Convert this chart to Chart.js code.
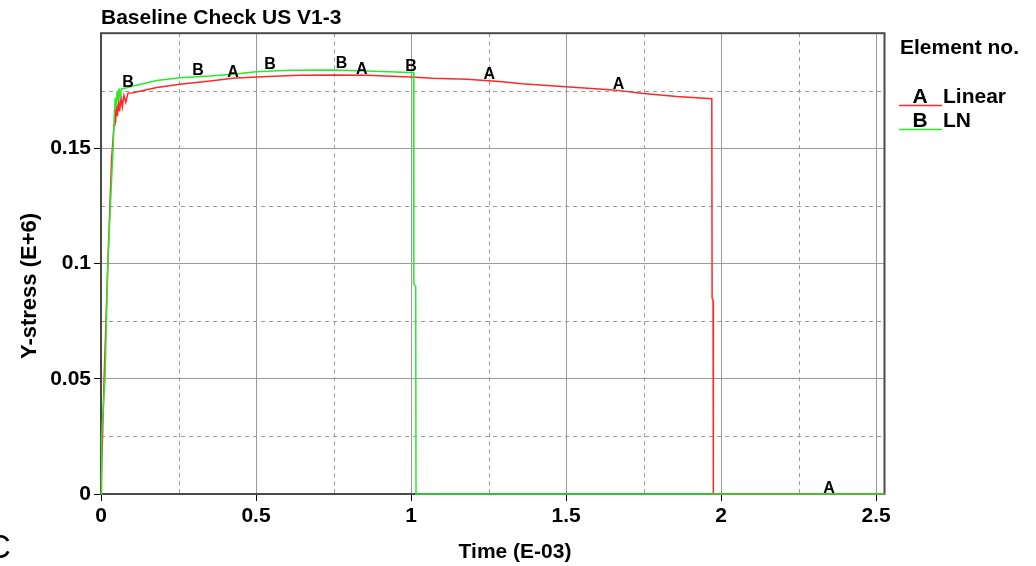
<!DOCTYPE html>
<html>
<head>
<meta charset="utf-8">
<script src="https://cdn.jsdelivr.net/npm/chart.js@4.4.0/dist/chart.umd.min.js"></script>
<style>
  html, body { margin: 0; padding: 0; background: #fff; }
  #wrap { width: 1036px; height: 566px; position: relative; }
</style>
</head>
<body>
<div id="wrap"><canvas id="myChart"></canvas></div>
<script>
// curve A - Linear (red)
var linearTime = [0, 0.01, 0.022, 0.034, 0.042, 0.045, 0.047, 0.05, 0.053, 0.057, 0.06, 0.065, 0.069, 0.074, 0.08, 0.087, 0.103, 0.18, 0.255, 0.352, 0.426, 0.5, 0.64, 0.75, 0.857, 1.0, 1.07, 1.18, 1.285, 1.357, 1.5, 1.652, 1.75, 1.857, 1.97, 1.971, 1.974, 1.975, 2.527]
var linearStress = [0, 0.05, 0.1, 0.145, 0.16, 0.167, 0.161, 0.169, 0.164, 0.171, 0.166, 0.172, 0.168, 0.173, 0.17, 0.174, 0.1742, 0.1764, 0.1778, 0.1793, 0.1804, 0.181, 0.1817, 0.1819, 0.1817, 0.181, 0.1804, 0.18, 0.179, 0.1781, 0.1768, 0.1754, 0.1738, 0.1725, 0.1716, 0.085, 0.084, 0, 0]

// curve B - LN (green)
var lnTime = [0, 0.002, 0.013, 0.022, 0.032, 0.039, 0.043, 0.046, 0.049, 0.052, 0.055, 0.058, 0.062, 0.066, 0.08, 0.103, 0.18, 0.255, 0.35, 0.426, 0.5, 0.61, 0.75, 0.857, 1.0, 1.008, 1.009, 1.015, 1.016, 2.527]
var lnStress = [0, 0.025, 0.05, 0.1, 0.13, 0.15, 0.165, 0.172, 0.168, 0.175, 0.171, 0.176, 0.173, 0.1758, 0.1762, 0.1771, 0.1795, 0.1807, 0.1814, 0.1822, 0.1833, 0.1839, 0.184, 0.1836, 0.1829, 0.1829, 0.091, 0.09, 0, 0]

// letter markers on the curves
var markerAx = [0.426, 0.841, 1.252, 1.669, 2.348]
var markerAy = [0.1804, 0.1817, 0.1796, 0.1755, 0]
var markerBx = [0.087, 0.313, 0.545, 0.776, 1.0]
var markerBy = [0.1757, 0.1812, 0.1835, 0.184, 0.1829]

var xMin = 0, xMax = 2.527, xStep = 0.25
var yMin = 0, yMax = 0.2, yStep = 0.025

var redColor = 'rgb(255,40,40)'
var greenColor = 'rgb(40,235,40)'
var fontName = '"Liberation Sans", Arial, sans-serif'

function toPoints(xs, ys) {
    var pts = []
    for (var i in xs) {
        pts.push({x: xs[i], y: ys[i]})
    }
    return pts
}

function isMajorX(v) { return v <= 2.5 + 1e-9 && Math.abs(v * 2 - Math.round(v * 2)) < 1e-6 }
function isMajorY(v) { return v < 0.2 - 1e-9 && Math.abs(v * 20 - Math.round(v * 20)) < 1e-6 }

var extras = {
    id: 'extras',
    beforeDatasetsDraw: function(chart) {
        var ctx = chart.ctx
        var a = chart.chartArea
        var xs = chart.scales.x, ys = chart.scales.y
        ctx.save()
        ctx.strokeStyle = '#9a9a9a'
        ctx.lineWidth = 1
        ctx.setLineDash([4, 4])
        xs.ticks.forEach(function(t) {
            if (!isMajorX(t.value) && t.value < 2.5) {
                var px = Math.round(xs.getPixelForValue(t.value)) + 0.5
                ctx.beginPath(); ctx.moveTo(px, a.top); ctx.lineTo(px, a.bottom); ctx.stroke()
            }
        })
        ys.ticks.forEach(function(t) {
            if (!isMajorY(t.value) && t.value > 0 && t.value < 0.2 - 1e-9) {
                var py = Math.round(ys.getPixelForValue(t.value)) + 0.5
                ctx.beginPath(); ctx.moveTo(a.left, py); ctx.lineTo(a.right, py); ctx.stroke()
            }
        })
        ctx.setLineDash([])
        // frame, under the curves
        ctx.strokeStyle = '#4a4a4a'
        ctx.lineWidth = 2
        ctx.strokeRect(a.left, a.top, a.right - a.left, a.bottom - a.top)
        ctx.restore()
    },
    afterDatasetsDraw: function(chart) {
        var ctx = chart.ctx
        var xs = chart.scales.x, ys = chart.scales.y
        ctx.save()
        // letters on the curves
        ctx.fillStyle = '#000'
        ctx.font = 'bold 16px ' + fontName
        ctx.textAlign = 'center'
        ctx.textBaseline = 'alphabetic'
        for (var i in markerAx) {
            ctx.fillText('A', xs.getPixelForValue(markerAx[i]), ys.getPixelForValue(markerAy[i]) - 1)
        }
        for (var j in markerBx) {
            ctx.fillText('B', xs.getPixelForValue(markerBx[j]), ys.getPixelForValue(markerBy[j]) - 2)
        }

        // axis titles
        ctx.font = 'bold 21px ' + fontName
        ctx.textBaseline = 'middle'
        ctx.fillText('Time (E-03)', 515, 552)
        ctx.save()
        ctx.translate(30, 286)
        ctx.rotate(-Math.PI / 2)
        ctx.font = 'bold 22px ' + fontName
        ctx.fillText('Y-stress (E+6)', 0, 0)
        ctx.restore()

        // legend
        ctx.textAlign = 'left'
        ctx.fillText('Element no.', 900, 48)
        ctx.textAlign = 'center'
        ctx.fillText('A', 920, 97)
        ctx.fillText('B', 920, 121)
        ctx.textAlign = 'left'
        ctx.fillText('Linear', 943, 97)
        ctx.fillText('LN', 943, 121)
        ctx.lineWidth = 1.5
        ctx.strokeStyle = redColor
        ctx.beginPath(); ctx.moveTo(899, 105.5); ctx.lineTo(942, 105.5); ctx.stroke()
        ctx.strokeStyle = greenColor
        ctx.beginPath(); ctx.moveTo(899, 129.5); ctx.lineTo(942, 129.5); ctx.stroke()

        // stray letter at the page edge
        ctx.font = '33px ' + fontName
        ctx.fillText('C', -13, 549)
        ctx.restore()
    }
}

var ctx = document.getElementById('myChart').getContext('2d');
var chart = new Chart(ctx, {
    type: 'line',
    data: {
        datasets: [{
            label: 'LN',
            data: toPoints(lnTime, lnStress),
            borderColor: greenColor,
            borderWidth: 1.5,
            pointRadius: 0,
            tension: 0,
            clip: 3,
            order: 0
        }, {
            label: 'Linear',
            data: toPoints(linearTime, linearStress),
            borderColor: redColor,
            borderWidth: 1.5,
            pointRadius: 0,
            tension: 0,
            clip: 3,
            order: 1
        }]
    },
    options: {
        responsive: true,
        maintainAspectRatio: false,
        animation: false,
        layout: { padding: { left: 0, right: 151.5, top: 0, bottom: 0 } },
        plugins: {
            legend: { display: false },
            tooltip: { enabled: false },
            title: {
                display: true,
                text: 'Baseline Check US V1-3',
                align: 'start',
                fullSize: false,
                color: '#000',
                font: { family: fontName, size: 21, weight: 'bold', lineHeight: 1.2 },
                padding: { top: 6, bottom: 2 }
            }
        },
        scales: {
            x: {
                type: 'linear',
                min: xMin,
                max: xMax,
                afterFit: function(s) { s.height = 72 },
                border: { display: false },
                grid: {
                    color: function(c) { return isMajorX(c.tick.value) && c.tick.value > 0 ? '#9a9a9a' : 'rgba(0,0,0,0)' },
                    tickColor: function(c) { return isMajorX(c.tick.value) ? '#000' : 'rgba(0,0,0,0)' },
                    tickLength: 7,
                    lineWidth: 1
                },
                ticks: {
                    stepSize: xStep,
                    includeBounds: false,
                    autoSkip: false,
                    maxRotation: 0,
                    padding: 3,
                    color: '#000',
                    font: { family: fontName, size: 21, weight: 'bold' },
                    callback: function(v) { return isMajorX(v) ? String(Math.round(v * 10) / 10) : '' }
                }
            },
            y: {
                min: yMin,
                max: yMax,
                afterFit: function(s) { s.width = 101 },
                border: { display: false },
                grid: {
                    color: function(c) { return isMajorY(c.tick.value) && c.tick.value > 0 ? '#9a9a9a' : 'rgba(0,0,0,0)' },
                    tickColor: function(c) { return isMajorY(c.tick.value) ? '#000' : 'rgba(0,0,0,0)' },
                    tickLength: 7,
                    lineWidth: 1
                },
                ticks: {
                    stepSize: yStep,
                    autoSkip: false,
                    padding: 3,
                    color: '#000',
                    font: { family: fontName, size: 21, weight: 'bold' },
                    callback: function(v) { return isMajorY(v) ? String(Math.round(v * 100) / 100) : '' }
                }
            }
        }
    },
    plugins: [extras]
});
</script>
</body>
</html>
